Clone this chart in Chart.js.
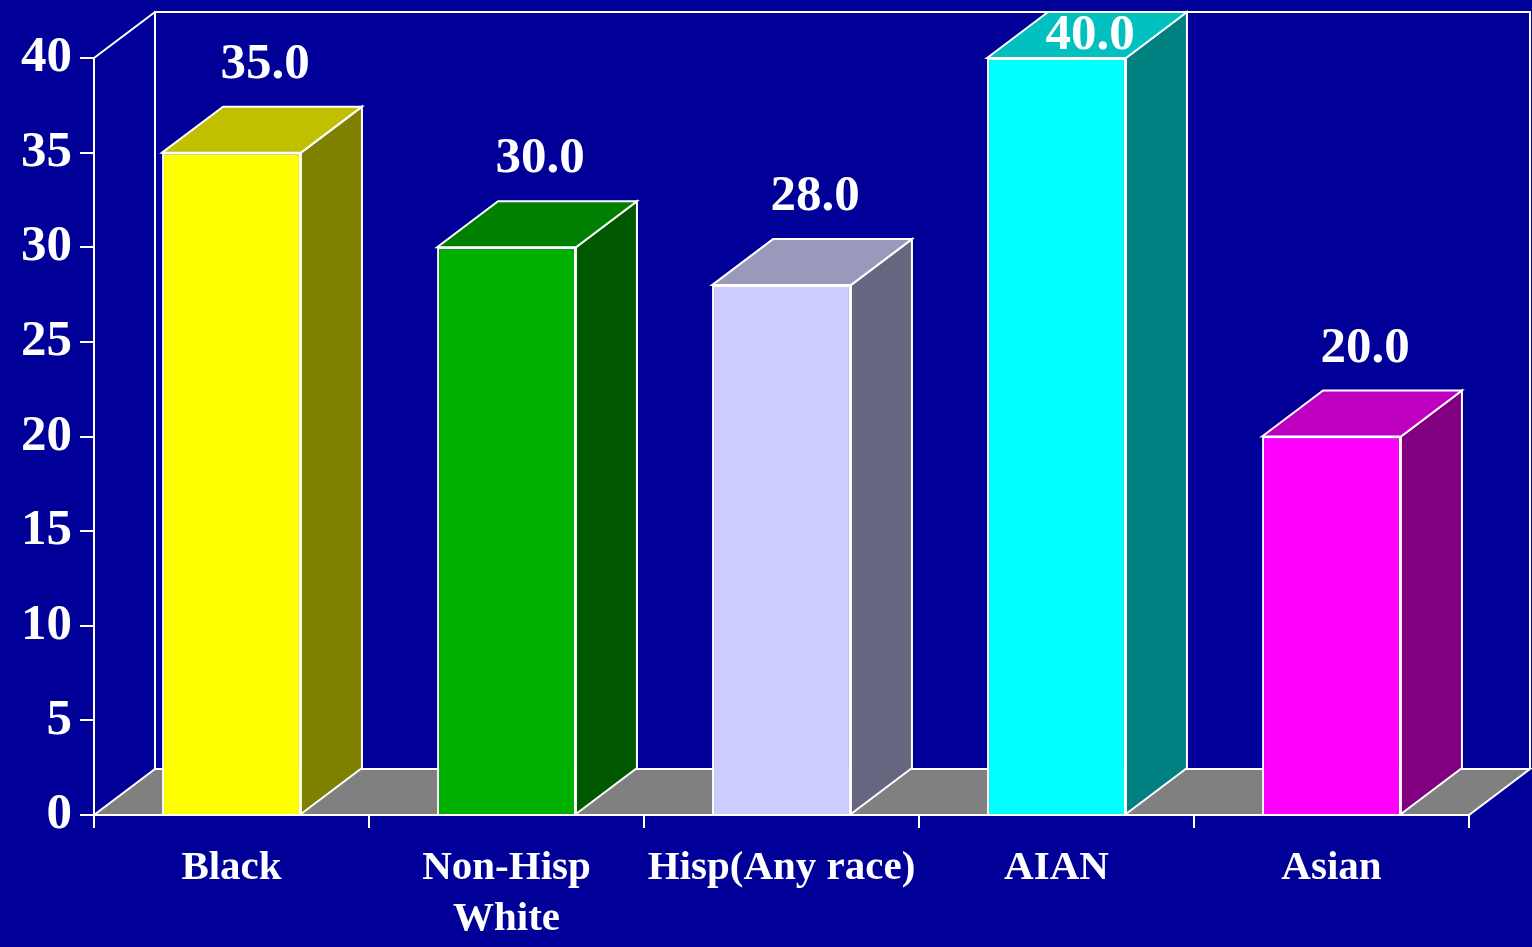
<!DOCTYPE html>
<html>
<head>
<meta charset="utf-8">
<script src="https://cdn.jsdelivr.net/npm/chart.js@4/dist/chart.umd.min.js"></script>
<style>
  html, body { margin: 0; padding: 0; background: #000099; }
  #wrap { width: 1532px; height: 947px; position: relative; }
</style>
</head>
<body>
<div id="wrap"><canvas id="chart"></canvas></div>
<script>
const categories = ["Black", ["Non-Hisp", "White"], "Hisp(Any race)", "AIAN", "Asian"];
const values = [35.0, 30.0, 28.0, 40.0, 20.0];
const yTicks = [0, 5, 10, 15, 20, 25, 30, 35, 40];

const frontColors = ["#ffff00", "#00b000", "#ccccff", "#00ffff", "#ff00ff"];
const topColors = ["#c0c000", "#008000", "#9999bb", "#00c0c0", "#c000c0"];
const sideColors = ["#808000", "#005800", "#666680", "#008080", "#800080"];

const DX = 61;   // depth offset
const DY = -46;
const SERIF = '"Liberation Serif", "Times New Roman", serif';

function poly(ctx, pts, fill) {
  ctx.beginPath();
  ctx.moveTo(pts[0][0], pts[0][1]);
  pts.slice(1).forEach((p) => ctx.lineTo(p[0], p[1]));
  ctx.closePath();
  if (fill) {
    ctx.fillStyle = fill;
    ctx.fill();
  }
  ctx.stroke();
}

const threeD = {
  id: "threeD",
  beforeDatasetsDraw(chart) {
    const { ctx, chartArea: a } = chart;
    ctx.save();
    ctx.strokeStyle = "#ffffff";
    ctx.lineWidth = 2;
    // floor
    poly(ctx, [[a.left, a.bottom], [a.right, a.bottom], [a.right + DX, a.bottom + DY], [a.left + DX, a.bottom + DY]], "#808080");
    // back wall + left wall edges
    ctx.beginPath();
    ctx.moveTo(a.left + DX, a.bottom + DY);
    ctx.lineTo(a.left + DX, a.top + DY);
    ctx.lineTo(a.right + DX, a.top + DY);
    ctx.lineTo(a.right + DX, a.bottom + DY);
    ctx.moveTo(a.left, a.top);
    ctx.lineTo(a.left + DX, a.top + DY);
    ctx.stroke();
    ctx.restore();
  },
  afterDatasetsDraw(chart) {
    const { ctx } = chart;
    const meta = chart.getDatasetMeta(0);
    ctx.save();
    ctx.strokeStyle = "#ffffff";
    ctx.lineWidth = 2;
    ctx.lineJoin = "miter";
    meta.data.forEach((bar, i) => {
      const { x, y, base, width } = bar.getProps(["x", "y", "base", "width"], true);
      const l = x - width / 2;
      const r = x + width / 2;
      poly(ctx, [[r, y], [r + DX, y + DY], [r + DX, base + DY], [r, base]], sideColors[i]);
      poly(ctx, [[l, y], [l + DX, y + DY], [r + DX, y + DY], [r, y]], topColors[i]);
      ctx.fillStyle = "#ffffff";
      ctx.font = "bold 51px " + SERIF;
      ctx.textAlign = "center";
      ctx.textBaseline = "middle";
      const ly = Math.max(y + DY - 42, 36);
      ctx.fillText(values[i].toFixed(1), x + DX / 2 + 3, ly);
    });
    ctx.restore();
  },
};

new Chart(document.getElementById("chart"), {
  type: "bar",
  data: {
    labels: categories,
    datasets: [
      {
        data: values,
        backgroundColor: frontColors,
        borderColor: "#ffffff",
        borderWidth: 2,
        categoryPercentage: 1,
        barPercentage: 0.505,
      },
    ],
  },
  options: {
    responsive: true,
    maintainAspectRatio: false,
    animation: false,
    layout: { padding: { top: 58, right: 63, left: 0, bottom: 0 } },
    plugins: { legend: { display: false }, tooltip: { enabled: false } },
    scales: {
      x: {
        afterFit: (scale) => { scale.height = 132; },
        border: { color: "#ffffff", width: 2 },
        grid: { drawOnChartArea: false, color: "#ffffff", lineWidth: 2, tickLength: 13, offset: true },
        ticks: {
          color: "#ffffff",
          padding: 15,
          maxRotation: 0,
          autoSkip: false,
          font: { family: SERIF, size: 41, weight: "bold", lineHeight: 1.25 },
        },
      },
      y: {
        min: 0,
        max: 40,
        afterFit: (scale) => { scale.width = 94; },
        afterBuildTicks: (scale) => { scale.ticks = yTicks.map((v) => ({ value: v })); },
        border: { color: "#ffffff", width: 2 },
        grid: { drawOnChartArea: false, color: "#ffffff", lineWidth: 2, tickLength: 14 },
        ticks: {
          color: "#ffffff",
          padding: 8,
          font: { family: SERIF, size: 51, weight: "bold" },
        },
      },
    },
  },
  plugins: [threeD],
});
</script>
</body>
</html>
